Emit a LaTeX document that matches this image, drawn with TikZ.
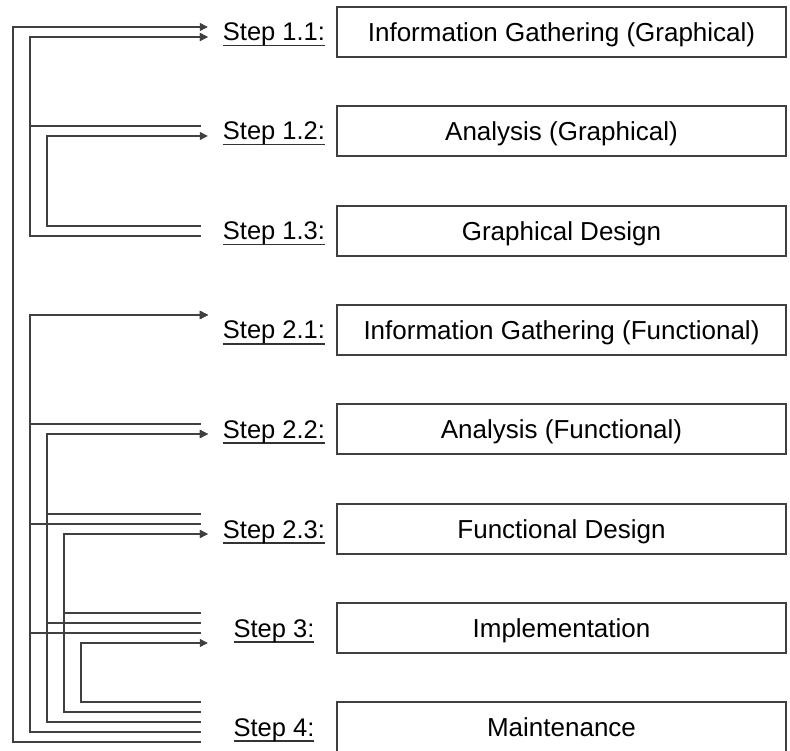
\documentclass[tikz,border=0pt]{standalone}
\usepackage{fontspec}
\setmainfont{Liberation Sans}
\usepackage{tikz}
\usetikzlibrary{arrows.meta}

\newcommand{\stepul}[1]{\setbox0=\hbox{#1}\rlap{\color{black!80}\rule[-5.5pt]{\wd0}{1.2pt}}\box0}

\begin{document}
\begin{tikzpicture}
  [x=1pt,y=-1pt,
   stepbox/.style={draw=black!75,line width=1.5pt,minimum width=449pt,minimum height=50pt,
                   inner sep=0pt,text height=18.5pt,text depth=0pt,font=\fontsize{26}{31}\selectfont},
   steplbl/.style={minimum width=132pt,inner sep=0pt,text height=18pt,text depth=0pt,
                   font=\fontsize{25.5}{30}\selectfont},
   fb/.style={draw=black!75,line width=1.2pt,shorten <=7pt,-{Triangle[length=8pt,width=8pt]}}]
  \useasboundingbox (0,0) rectangle (790,751);

  % steps
  \node[stepbox] (b11) at (561.5,32)  {Information Gathering (Graphical)};
  \node[stepbox] (b12) at (561.5,131) {Analysis (Graphical)};
  \node[stepbox] (b13) at (561.5,231) {Graphical Design};
  \node[stepbox] (b21) at (561.5,330) {Information Gathering (Functional)};
  \node[stepbox] (b22) at (561.5,429) {Analysis (Functional)};
  \node[stepbox] (b23) at (561.5,529) {Functional Design};
  \node[stepbox] (b3)  at (561.5,628) {Implementation};
  \node[stepbox] (b4)  at (561.5,727) {Maintenance};

  \node[steplbl] (s11) at (274,32)  {\stepul{Step 1.1:}};
  \node[steplbl] (s12) at (274,131) {\stepul{Step 1.2:}};
  \node[steplbl] (s13) at (274,231) {\stepul{Step 1.3:}};
  \node[steplbl] (s21) at (274,330) {\stepul{Step 2.1:}};
  \node[steplbl] (s22) at (274,429) {\stepul{Step 2.2:}};
  \node[steplbl] (s23) at (274,529) {\stepul{Step 2.3:}};
  \node[steplbl] (s3)  at (274,628) {\stepul{Step 3:}};
  \node[steplbl] (s4)  at (274,727) {\stepul{Step 4:}};

  % feedback tracks
  \coordinate (trk1) at (13,0);
  \coordinate (trk2) at (30,0);
  \coordinate (trk3) at (47,0);
  \coordinate (trk4) at (64,0);
  \coordinate (trk5) at (81,0);

  \foreach \from/\fy/\trk/\to/\ty in {s12/5/trk2/s11/-5, s13/-5/trk2/s11/-5,
      s13/5/trk3/s12/-5, s4/-15/trk1/s11/5,
      s22/5/trk2/s21/15, s23/5/trk2/s21/15, s3/-5/trk2/s21/15, s4/-5/trk2/s21/15,
      s23/15/trk3/s22/-5, s3/5/trk3/s22/-5, s4/5/trk3/s22/-5,
      s3/15/trk4/s23/-5, s4/15/trk4/s23/-5,
      s4/25/trk5/s3/-15}
  {
    \path ([yshift=\fy]\from.west) coordinate (a) ([yshift=\ty]\to.west) coordinate (b);
    \draw[fb] (a) -- (a -| \trk) |- (b);
  }

\end{tikzpicture}
\end{document}
